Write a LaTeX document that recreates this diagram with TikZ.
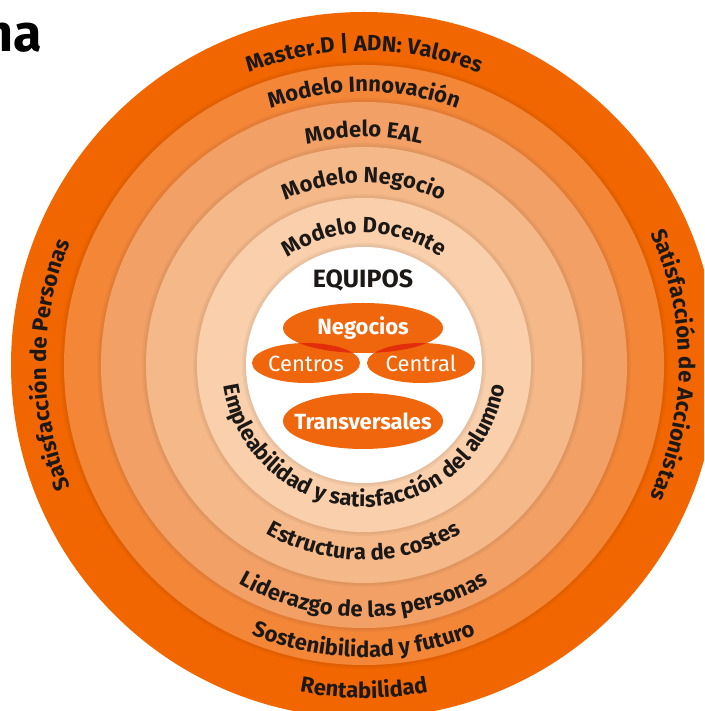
\documentclass[tikz,border=0pt]{standalone}
\usepackage{fontspec}
\setmainfont{Fira Sans}
\usetikzlibrary{decorations.text}

\definecolor{ring0}{RGB}{242,102,0}
\definecolor{ring1}{RGB}{244,134,56}
\definecolor{ring2}{RGB}{242,160,102}
\definecolor{ring3}{RGB}{245,184,136}
\definecolor{ring4}{RGB}{249,207,172}
\definecolor{blob}{RGB}{240,102,12}
\definecolor{overlap}{RGB}{226,46,10}
\definecolor{ink}{RGB}{28,24,22}

\newcommand{\ringfont}{\bfseries\fontsize{22}{22}\selectfont}

\begin{document}
\begin{tikzpicture}[x=1pt,y=1pt,
  ring label/.style={decorate,decoration={text along path,text align=center,
    text color=ink,text={|\ringfont|#1}}},
  team/.style={anchor=base,text=white,font=\bfseries\fontsize{22}{22}\selectfont},
  team light/.style={anchor=base,text=white,font=\fontsize{22}{22}\selectfont},
  shade ring/.style={fill=black,opacity=.035}]

  \useasboundingbox (0,0) rectangle (704,711);
  \clip (0,0) rectangle (704,711);

  \coordinate (c) at (364,346);

  % rings, from the outside in (two soft shadow steps under each)
  \fill[ring0] (c) circle (353);
  \fill[shade ring] (c) circle (304);
  \fill[shade ring] (c) circle (302);
  \fill[ring1] (c) circle (300);
  \fill[shade ring] (c) circle (267);
  \fill[shade ring] (c) circle (265);
  \fill[ring2] (c) circle (263);
  \fill[shade ring] (c) circle (222);
  \fill[shade ring] (c) circle (220);
  \fill[ring3] (c) circle (218);
  \fill[shade ring] (c) circle (171);
  \fill[shade ring] (c) circle (169);
  \fill[ring4] (c) circle (167);
  \fill[shade ring] (c) circle (122);
  \fill[shade ring] (c) circle (120);
  \fill[white] (c) circle (118);

  \node[anchor=base east,text=black,font=\bfseries\fontsize{52}{52}\selectfont] (title) at (46,659) {na};

  % upper labels, read clockwise
  \path[ring label={Master.D {\textbar} ADN: Valores}] (c) ++(170:314) arc[start angle=170,end angle=10,radius=314];
  \path[ring label={Modelo Innovación}] (c) ++(170:273) arc[start angle=170,end angle=10,radius=273];
  \path[ring label={Modelo EAL}] (c) ++(170:228) arc[start angle=170,end angle=10,radius=228];
  \path[ring label={Modelo Negocio}] (c) ++(170:182) arc[start angle=170,end angle=10,radius=182];
  \path[ring label={Modelo Docente}] (c) ++(170:132) arc[start angle=170,end angle=10,radius=132];

  % lower labels, read counter-clockwise
  \path[ring label={Empleabilidad y satisfacción del alumno}] (c) ++(172:142) arc[start angle=172,end angle=368,radius=142];
  \path[ring label={Estructura de costes}] (c) ++(190:195) arc[start angle=190,end angle=350,radius=195];
  \path[ring label={Liderazgo de las personas}] (c) ++(190:252) arc[start angle=190,end angle=350,radius=252];
  \path[ring label={Sostenibilidad y futuro}] (c) ++(190:292) arc[start angle=190,end angle=350,radius=292];
  \path[ring label={Rentabilidad}] (c) ++(200:333) arc[start angle=200,end angle=340,radius=333];

  % side labels
  \path[ring label={Satisfacción de Personas}] (c) ++(235:318) arc[start angle=235,end angle=125,radius=318];
  \path[ring label={Satisfacción de Accionistas}] (c) ++(55:315) arc[start angle=55,end angle=-55,radius=315];

  % teams
  \fill[blob] (363,383) ellipse [x radius=80,y radius=25];
  \fill[blob] (306,348) ellipse [x radius=54,y radius=20];
  \fill[blob] (421,348) ellipse [x radius=54,y radius=20];
  \fill[blob] (363,290) ellipse [x radius=80,y radius=28];
  \begin{scope}
    \clip (363,383) ellipse [x radius=80,y radius=25];
    \fill[overlap] (306,348) ellipse [x radius=54,y radius=20];
    \fill[overlap] (421,348) ellipse [x radius=54,y radius=20];
  \end{scope}

  \node[anchor=base,text=ink,font=\bfseries\fontsize{25}{25}\selectfont] (equipos) at (363,423) {EQUIPOS};
  \node[team] (negocios) at (363,376) {Negocios};
  \node[team light] (centros) at (306,339) {Centros};
  \node[team light] (central) at (421,339) {Central};
  \node[team] (transversales) at (363,281) {Transversales};

\end{tikzpicture}
\end{document}
